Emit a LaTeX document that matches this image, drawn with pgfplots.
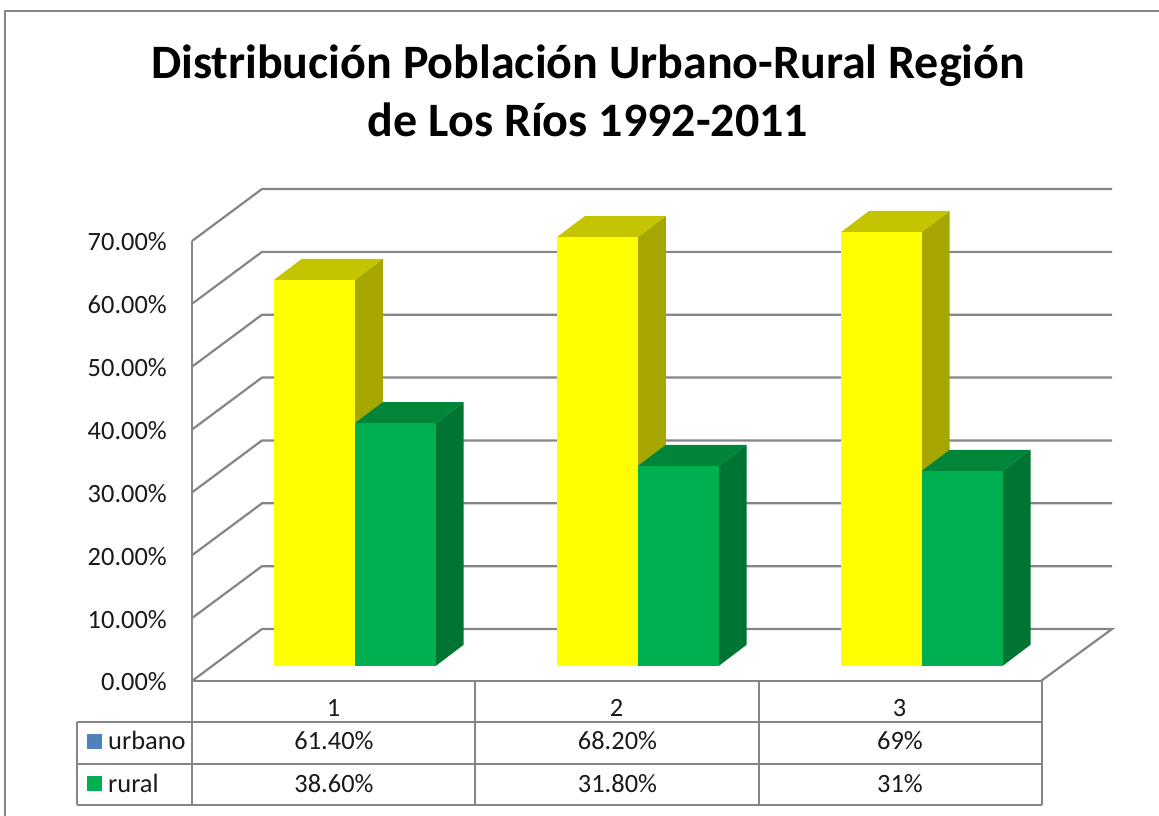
\documentclass[border=0pt]{standalone}
\usepackage{pgfplots}
\pgfplotsset{compat=1.18}
\usepackage{fontspec}
\setmainfont{Carlito}
\definecolor{gridc}{HTML}{868686}
\definecolor{yfront}{HTML}{FFFF00}
\definecolor{yside}{HTML}{A6A600}
\definecolor{ytop}{HTML}{C4C400}
\definecolor{gfront}{HTML}{00B050}
\definecolor{gside}{HTML}{007433}
\definecolor{gtop}{HTML}{00853B}
\definecolor{keyblue}{HTML}{4F81BD}
\newcommand{\tfont}{\fontsize{26.4}{30}\selectfont}
\pgfplotsset{
  barf/.style={draw=none,fill=#1,forget plot,xshift=21pt,yshift=15.3pt},
}
\begin{document}
\begin{tikzpicture}
\path[use as bounding box] (-192pt,-135pt) rectangle (967pt,681pt);
\begin{axis}[
  anchor=south west, at={(0pt,0pt)},
  scale only axis, width=849pt, height=440pt,
  xmin=0, xmax=3, ymin=0, ymax=70,
  clip=false,
  axis x line*=bottom, axis y line*=left,
  axis line style={draw=gridc,line width=2.4pt,-},
  major tick length=0pt,
  xtick={0.5,1.5,2.5}, xticklabels={1,2,3},
  ytick={0,10,20,30,40,50,60,70},
  yticklabels={0.00\%,10.00\%,20.00\%,30.00\%,40.00\%,50.00\%,60.00\%,70.00\%},
  tick label style={font=\tfont,text=black!90},
  yticklabel style={anchor=east,inner sep=0pt,xshift=-25pt,yshift=-1pt},
  xticklabel style={anchor=base,inner sep=0pt,yshift=-35.5pt},
  title={Distribución Población Urbano-Rural Región\\de Los Ríos 1992-2011},
  title style={align=center,font=\fontsize{48}{58}\selectfont\bfseries,
    anchor=south,at={(0.4664,1.222)},inner sep=0pt},
]
% walls: gridlines at each tick value (front edge, then back wall)
\pgfplotsinvokeforeach{10,20,30,40,50,60,70}{
  \addplot[gridc,line width=2.2pt,forget plot] coordinates {(0,#1) (0.2473,#1+8.27) (3.2509,#1+8.27)};
}
\addplot[gridc,line width=2.2pt,forget plot] coordinates {(0,0) (0.2473,8.27) (3.2509,8.27) (3,0)};

% --- category 1
\addplot[barf=yside] coordinates {(0.502,0) (0.600,3.34) (0.600,64.74) (0.502,61.4)} -- cycle;
\addplot[barf=ytop] coordinates {(0.216,61.4) (0.314,64.74) (0.600,64.74) (0.502,61.4)} -- cycle;
\addplot[barf=yfront] coordinates {(0.216,0) (0.502,0) (0.502,61.4) (0.216,61.4)} -- cycle;
\addplot[barf=gside] coordinates {(0.788,0) (0.886,3.34) (0.886,41.94) (0.788,38.6)} -- cycle;
\addplot[barf=gtop] coordinates {(0.502,38.6) (0.600,41.94) (0.886,41.94) (0.788,38.6)} -- cycle;
\addplot[barf=gfront] coordinates {(0.502,0) (0.788,0) (0.788,38.6) (0.502,38.6)} -- cycle;
% --- category 2
\addplot[barf=yside] coordinates {(1.502,0) (1.600,3.34) (1.600,71.54) (1.502,68.2)} -- cycle;
\addplot[barf=ytop] coordinates {(1.216,68.2) (1.314,71.54) (1.600,71.54) (1.502,68.2)} -- cycle;
\addplot[barf=yfront] coordinates {(1.216,0) (1.502,0) (1.502,68.2) (1.216,68.2)} -- cycle;
\addplot[barf=gside] coordinates {(1.788,0) (1.886,3.34) (1.886,35.14) (1.788,31.8)} -- cycle;
\addplot[barf=gtop] coordinates {(1.502,31.8) (1.600,35.14) (1.886,35.14) (1.788,31.8)} -- cycle;
\addplot[barf=gfront] coordinates {(1.502,0) (1.788,0) (1.788,31.8) (1.502,31.8)} -- cycle;
% --- category 3
\addplot[barf=yside] coordinates {(2.505,0) (2.603,3.34) (2.603,72.34) (2.505,69)} -- cycle;
\addplot[barf=ytop] coordinates {(2.220,69) (2.318,72.34) (2.603,72.34) (2.505,69)} -- cycle;
\addplot[barf=yfront] coordinates {(2.220,0) (2.505,0) (2.505,69) (2.220,69)} -- cycle;
\addplot[barf=gside] coordinates {(2.791,0) (2.889,3.34) (2.889,34.34) (2.791,31)} -- cycle;
\addplot[barf=gtop] coordinates {(2.505,31) (2.603,34.34) (2.889,34.34) (2.791,31)} -- cycle;
\addplot[barf=gfront] coordinates {(2.505,0) (2.791,0) (2.791,31) (2.505,31)} -- cycle;
\end{axis}
% outer frame (only top and left fall inside the crop)
\draw[gridc,line width=2pt] (-186.5pt,-135pt) -- (-186.5pt,670pt) -- (967pt,670pt);
% data table: px -> (px-192, 681-py)
\begin{scope}[gridc,line width=2pt]
  \draw (-114.5pt,-41pt) -- (849.5pt,-41pt);
  \draw (-114.5pt,-82.5pt) -- (849.5pt,-82.5pt);
  \draw (-114.5pt,-124pt) -- (849.5pt,-124pt);
  \draw (-114.5pt,-41pt) -- (-114.5pt,-124pt);
  \draw[line width=2.2pt] (0pt,0pt) -- (0pt,-124pt);
  \draw (283pt,0pt) -- (283pt,-124pt);
  \draw (567pt,0pt) -- (567pt,-124pt);
  \draw (849.5pt,0pt) -- (849.5pt,-124pt);
\end{scope}
\fill[keyblue] (-105pt,-53pt) rectangle (-90pt,-68pt);
\fill[gfront] (-105pt,-95pt) rectangle (-90pt,-110pt);
\begin{scope}[every node/.style={anchor=base,inner sep=0pt,font=\tfont,text=black!90}]
  \node[anchor=base west] at (-84pt,-69pt) {urbano};
  \node[anchor=base west] at (-84pt,-111pt) {rural};
  \node at (142pt,-69pt) {61.40\%};
  \node at (425.5pt,-69pt) {68.20\%};
  \node at (708pt,-69pt) {69\%};
  \node at (142pt,-111pt) {38.60\%};
  \node at (425.5pt,-111pt) {31.80\%};
  \node at (708pt,-111pt) {31\%};
\end{scope}
\end{tikzpicture}
\end{document}
